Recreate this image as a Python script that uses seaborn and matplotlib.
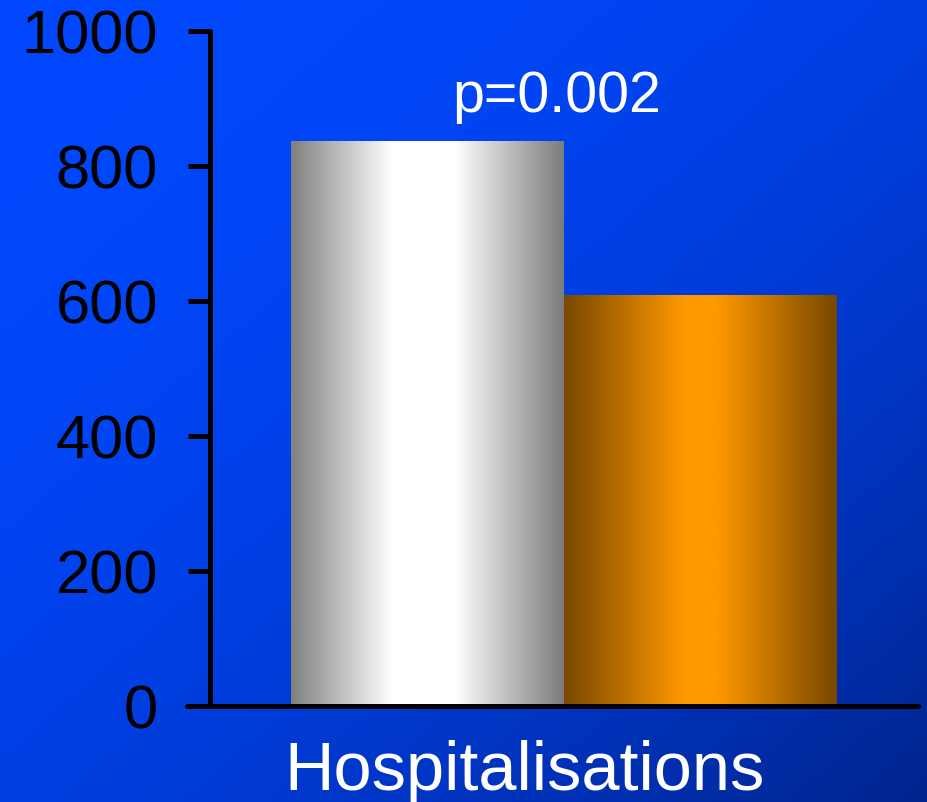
import numpy as np
import pandas as pd
import matplotlib
matplotlib.use("Agg")
import matplotlib.pyplot as plt
from matplotlib.colors import LinearSegmentedColormap
from matplotlib.transforms import ScaledTranslation
import seaborn as sns

# Data
categories = ["Hospitalisations"]
groups = ["Control", "Treatment"]
values = [837, 609]
p_label = "p=0.002"
y_ticks = [0, 200, 400, 600, 800, 1000]

df = pd.DataFrame({
    "category": categories * len(groups),
    "group": groups,
    "value": values,
})

sns.set_theme(style="white")
plt.rcParams["font.family"] = ["Liberation Sans", "DejaVu Sans"]

W, H, DPI = 928, 803, 100
fig = plt.figure(figsize=(W / DPI, H / DPI), dpi=DPI)

# Diagonal blue background gradient
bg_ax = fig.add_axes([0, 0, 1, 1], zorder=-10)
xx, yy = np.meshgrid(np.linspace(0, 1, 400), np.linspace(0, 1, 350))
t = ((xx + yy) / 2) ** 2
c0 = np.array([0, 72, 255]) / 255
c1 = np.array([0, 36, 140]) / 255
bg = c0[None, None, :] + (c1 - c0)[None, None, :] * t[..., None]
bg_ax.imshow(bg, extent=[0, 1, 0, 1], aspect="auto", origin="upper")
bg_ax.set_axis_off()

# Main axes
left_px, right_px, top_px, bottom_px = 187, 918, 32, 707
ax = fig.add_axes([left_px / W, (H - bottom_px) / H,
                   (right_px - left_px) / W, (bottom_px - top_px) / H])
ax.patch.set_alpha(0)

sns.barplot(data=df, x="category", y="value", hue="group", width=0.8,
            palette=["#c0c0c0", "#ff9900"], ax=ax, legend=False,
            edgecolor="none", linewidth=0)

# Cylinder-like horizontal shading for each bar
silver = LinearSegmentedColormap.from_list(
    "silver", [(0, "#808080"), (0.37, "#ffffff"), (0.6, "#ffffff"), (1, "#7c7c7c")])
orange = LinearSegmentedColormap.from_list(
    "orange", [(0, "#784800"), (0.44, "#ff9900"), (0.56, "#ff9900"), (1, "#784800")])

grad = np.linspace(0, 1, 256)[None, :]
for patch, cmap in zip(ax.patches, [silver, orange]):
    x0, y0 = patch.get_x(), patch.get_y()
    w, h = patch.get_width(), patch.get_height()
    im = ax.imshow(grad, cmap=cmap, extent=[x0, x0 + w, y0, y0 + h],
                   aspect="auto", zorder=patch.get_zorder() + 0.1,
                   interpolation="bilinear")
    im.set_clip_path(patch)

px_per_unit = 546 / 0.8
center_px = 564
ax.set_xlim((left_px - center_px) / px_per_unit, (right_px - center_px) / px_per_unit)
ax.set_ylim(0, 1000)

# Axis styling
for s in ["top", "right"]:
    ax.spines[s].set_visible(False)
lw = 3.6
ax.spines["left"].set_position(("axes", (210 - left_px) / (right_px - left_px)))
for s in ["left", "bottom"]:
    ax.spines[s].set_linewidth(lw)
    ax.spines[s].set_color("black")
    ax.spines[s].set_capstyle("round")
    ax.spines[s].set_zorder(5)

ax.set_yticks(y_ticks)
ax.set_yticklabels([str(v) for v in y_ticks])
ax.tick_params(axis="y", direction="out", length=15.5, width=lw, color="black",
               labelsize=44.3, labelcolor="black", pad=22, left=True)
ax.tick_params(axis="x", length=0, labelsize=49.3, labelcolor="white", pad=24)
ax.set_xlabel("")
ax.set_ylabel("")

offset = ScaledTranslation(-39 / DPI, 0, fig.dpi_scale_trans)
for lab in ax.get_xticklabels():
    lab.set_transform(lab.get_transform() + offset)

ax.text(-0.01, 881, p_label, ha="center", va="baseline", color="white",
        fontsize=41.3)

fig.savefig("out.png", dpi=DPI)
